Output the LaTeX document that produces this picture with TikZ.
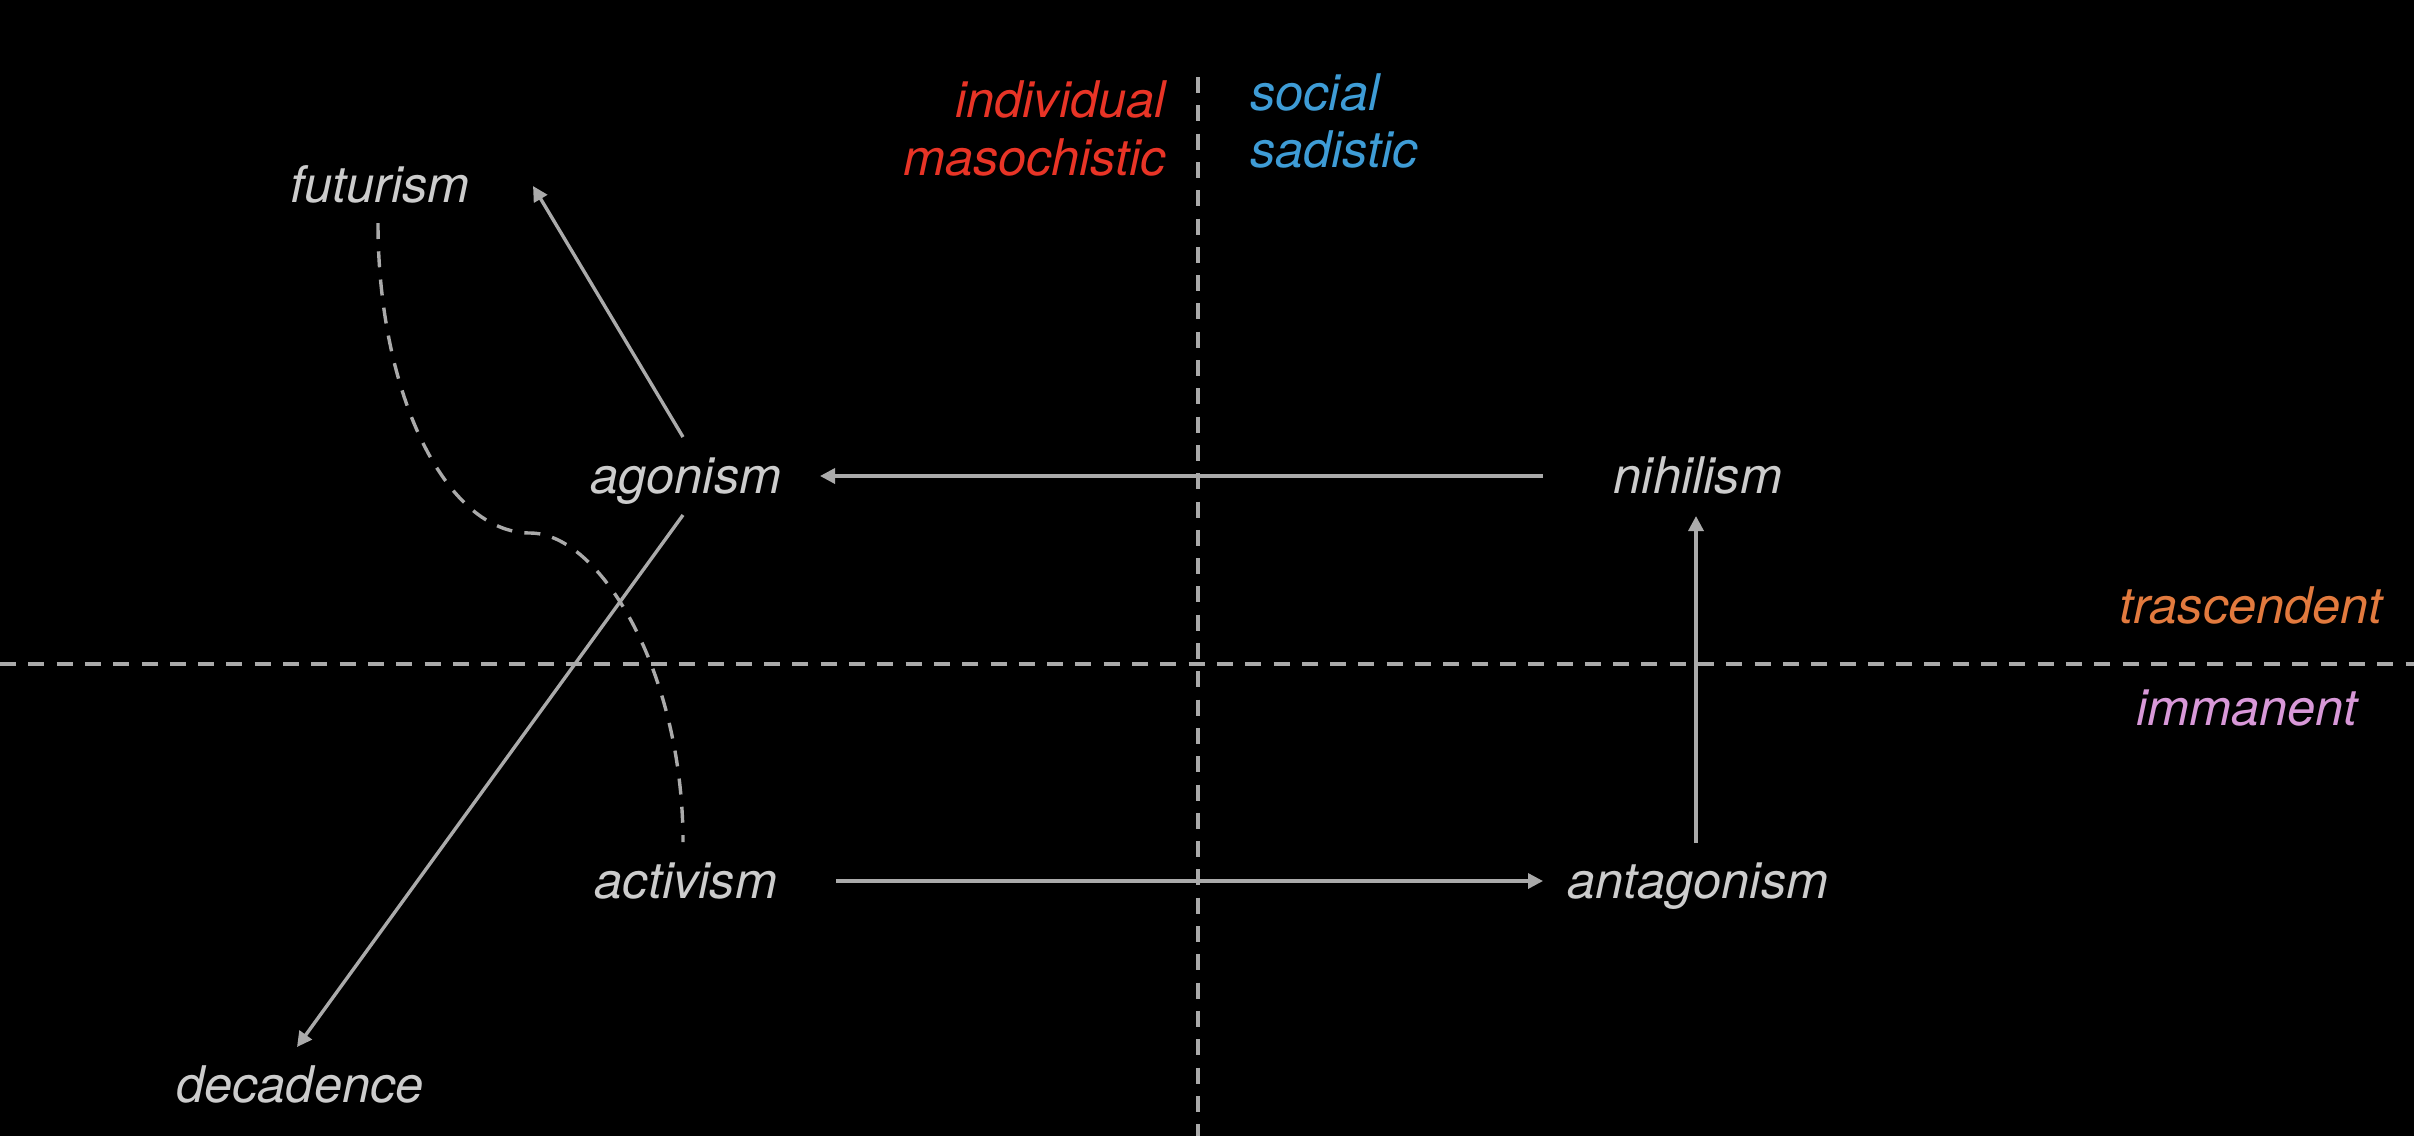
\documentclass[tikz,border=0pt]{standalone}
\usepackage{fontspec}
\setmainfont{TeX Gyre Heros}
\usetikzlibrary{arrows.meta}
\definecolor{linegray}{RGB}{170,170,170}
\definecolor{textgray}{RGB}{204,204,204}
\definecolor{lblred}{RGB}{232,52,38}
\definecolor{lblblue}{RGB}{62,156,214}
\definecolor{lblorange}{RGB}{226,122,62}
\definecolor{lblpink}{RGB}{216,152,216}
\tikzset{
  word/.style={inner sep=0pt, font=\fontsize{50.5}{58}\selectfont\itshape},
  term/.style={word, text=textgray, anchor=base},
  arr/.style={draw=linegray, line width=3.4pt, -{Triangle[length=15pt,width=15pt]}},
  axis/.style={draw=linegray, line width=3.4pt, dash pattern=on 16pt off 12.3pt},
  dsh/.style={draw=linegray, line width=3.4pt, dash pattern=on 16pt off 12.3pt},
}
\begin{document}
\begin{tikzpicture}[x=1pt,y=-1pt]
\fill[black] (0,0) rectangle (2414,1136);
\useasboundingbox (0,0) rectangle (2414,1136);
% axes
\coordinate (vtop) at (1198,77);
\coordinate (vbot) at (1198,1136);
\coordinate (hleft) at (0,664);
\coordinate (hright) at (2414,664);
\draw[axis] (vtop) -- (vbot);
\draw[axis] (hleft) -- (hright);
% quadrant labels
\node[word, text=lblred, anchor=base east] (individual) at (1166,117) {individual};
\node[word, text=lblred, anchor=base east] (masochistic) at (1166,175) {masochistic};
\node[word, text=lblblue, anchor=base west] (social) at (1250,110) {social};
\node[word, text=lblblue, anchor=base west] (sadistic) at (1250,167) {sadistic};
\node[word, text=lblorange, anchor=base east] (trascendent) at (2383,623) {trascendent};
\node[word, text=lblpink, anchor=base east] (immanent) at (2358,725) {immanent};
% terms
\node[term] (futurism) at (380,202) {futurism};
\node[term] (agonism) at (686,493) {agonism};
\node[term] (nihilism) at (1698,493) {nihilism};
\node[term] (activism) at (686,898) {activism};
\node[term] (antagonism) at (1698,898) {antagonism};
\node[term] (decadence) at (300,1102) {decadence};
% connectors
\draw[arr] ([shift={(-3,-56)}]agonism.base) -- ([shift={(153,-16)}]futurism.base);
\draw[arr] ([shift={(-3,22)}]agonism.base) -- ([shift={(-3,-55)}]decadence.base);
\draw[arr] ([shift={(-155,-17)}]nihilism.base) -- ([shift={(134,-17)}]agonism.base);
\draw[arr] ([shift={(150,-17)}]activism.base) -- ([shift={(-155,-17)}]antagonism.base);
\draw[arr] ([shift={(-2,-55)}]antagonism.base) -- ([shift={(-2,23)}]nihilism.base);
\coordinate (bend) at (530,533);
\draw[dsh] ([shift={(-2,21)}]futurism.base) .. controls +(0,171) and +(-84,0) .. (bend)
  .. controls +(70,0) and +(0,-170) .. ([shift={(-3,-56)}]activism.base);
\end{tikzpicture}
\end{document}
